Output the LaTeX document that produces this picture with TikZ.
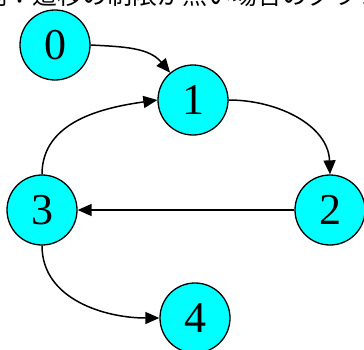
\documentclass[tikz,border=0pt]{standalone}
\usepackage{fontspec}
\setmainfont{Liberation Serif}
\newfontfamily\cjk{Noto Sans CJK JP}
\usetikzlibrary{arrows.meta}
\definecolor{nodecyan}{RGB}{0,255,255}
\begin{document}
\begin{tikzpicture}[x=1pt,y=1pt,
  vert/.style={circle,draw=black,line width=1.3pt,fill=nodecyan,minimum size=70pt,inner sep=0pt,font=\fontsize{44}{44}\selectfont},
  arr/.style={line width=1.5pt,-{Triangle[length=14pt,width=12pt]}}]
\useasboundingbox (0,0) rectangle (364,349);
\clip (0,0) rectangle (364,349);
\node[anchor=base west,inner sep=0pt,font=\cjk\fontsize{25}{25}\selectfont] (title) at (-18,344) {例：遷移の制限が無い場合のグラフ};
\node[vert] (n0) at (55,304) {0};
\node[vert] (n1) at (193,249) {1};
\node[vert] (n2) at (330,139) {2};
\node[vert] (n3) at (42,139) {3};
\node[vert] (n4) at (195,31) {4};
\draw[arr] (n0.east) to[out=-3,in=130] (n1.130);
\draw[arr] (n3.north) to[out=90,in=188] (n1.west);
\draw[arr] (n1.east) to[out=0,in=92] (n2.north);
\draw[arr] (n2.west) -- (n3.east);
\draw[arr] (n3.south) to[out=-90,in=180] (n4.west);
\end{tikzpicture}
\end{document}
